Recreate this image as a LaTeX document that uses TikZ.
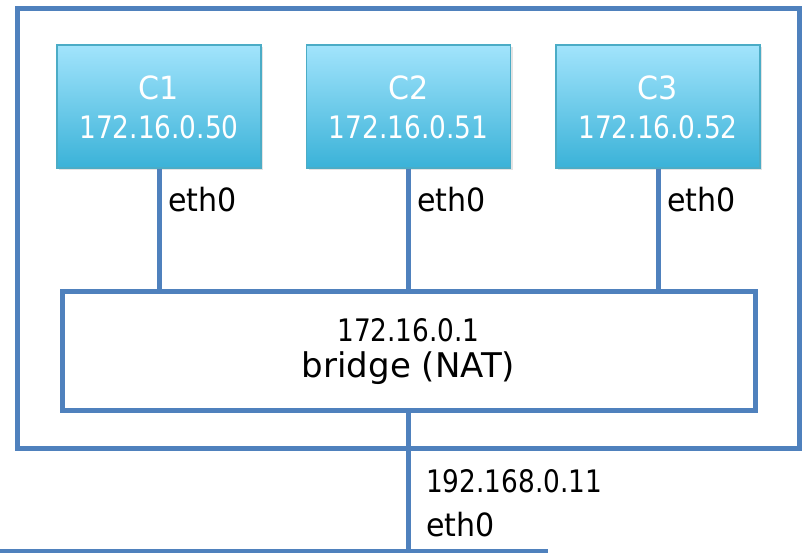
\documentclass[tikz,border=0pt]{standalone}
\usepackage{fontspec}
\setmainfont{DejaVu Sans}
\newfontfamily\numf[FakeStretch=0.85]{DejaVu Sans}
\newfontfamily\wordf[FakeStretch=0.94]{DejaVu Sans}
\usetikzlibrary{shadows}
\definecolor{lineblue}{RGB}{79,129,189}
\definecolor{ctop}{RGB}{162,228,252}
\definecolor{cbot}{RGB}{58,178,216}
\definecolor{cborder}{RGB}{75,172,198}
\tikzset{
  shad/.style={drop shadow={opacity=0.22,shadow xshift=2pt,shadow yshift=-2.5pt}},
  outerbox/.style={draw=lineblue,line width=5pt,fill=white,shad,inner sep=0pt},
  bridgebox/.style={draw=lineblue,line width=5pt,fill=white,shad,inner sep=0pt,minimum width=693,minimum height=119},
  contbox/.style={draw=cborder,line width=1.5pt,top color=ctop,bottom color=cbot,shad,inner sep=0pt,minimum width=204,minimum height=123},
  link/.style={draw=lineblue,line width=5pt},
  ctitle/.style={anchor=base,text=white,font=\wordf\fontsize{32}{38}\selectfont,inner sep=0pt},
  cip/.style={anchor=base,text=white,font=\numf\fontsize{31}{36}\selectfont,inner sep=0pt},
  lbl/.style={anchor=base west,inner sep=0pt,font=\wordf\fontsize{32}{38}\selectfont},
  iplbl/.style={anchor=base west,inner sep=0pt,font=\numf\fontsize{31}{36}\selectfont},
}
\begin{document}
\begin{tikzpicture}[x=1pt,y=1pt]
\useasboundingbox (0,0) rectangle (802,553);
% outer host box
\node[outerbox,minimum width=782,minimum height=440] (outer) at (408,324) {};
% containers
\node[contbox] (c1) at (159,446.5) {};
\node[contbox] (c2) at (408.5,446.5) {};
\node[contbox] (c3) at (658,446.5) {};
% bridge
\node[bridgebox] (bridge) at (408.5,201.5) {};
% links
\draw[link] (c1.south) -- (c1.south |- bridge.north);
\draw[link] (c2.south) -- (c2.south |- bridge.north);
\draw[link] (c3.south) -- (c3.south |- bridge.north);
\coordinate (down) at (408,0);
\draw[link] (bridge.south -| down) -- (down);
\coordinate (hl) at (0,1);
\coordinate (hr) at (548,1);
\draw[link] (hl) -- (hr);
% container texts
\node[ctitle] (t1) at (159,453) {C1};
\node[cip] (i1) at (159,414) {172.16.0.50};
\node[ctitle] (t2) at (408.5,453) {C2};
\node[cip] (i2) at (408.5,414) {172.16.0.51};
\node[ctitle] (t3) at (658,453) {C3};
\node[cip] (i3) at (658,414) {172.16.0.52};
% bridge texts
\node[anchor=base,inner sep=0pt,font=\numf\fontsize{31}{36}\selectfont] (bip) at (408.5,211) {172.16.0.1};
\node[anchor=base,inner sep=0pt,font=\fontsize{34}{40}\selectfont] (bname) at (408.5,175) {bridge (NAT)};
% interface labels
\node[lbl] (e1) at (168,341) {eth0};
\node[lbl] (e2) at (417,341) {eth0};
\node[lbl] (e3) at (667,341) {eth0};
\node[iplbl] (hip) at (426,60) {192.168.0.11};
\node[lbl] (he) at (426,16) {eth0};
\end{tikzpicture}
\end{document}
